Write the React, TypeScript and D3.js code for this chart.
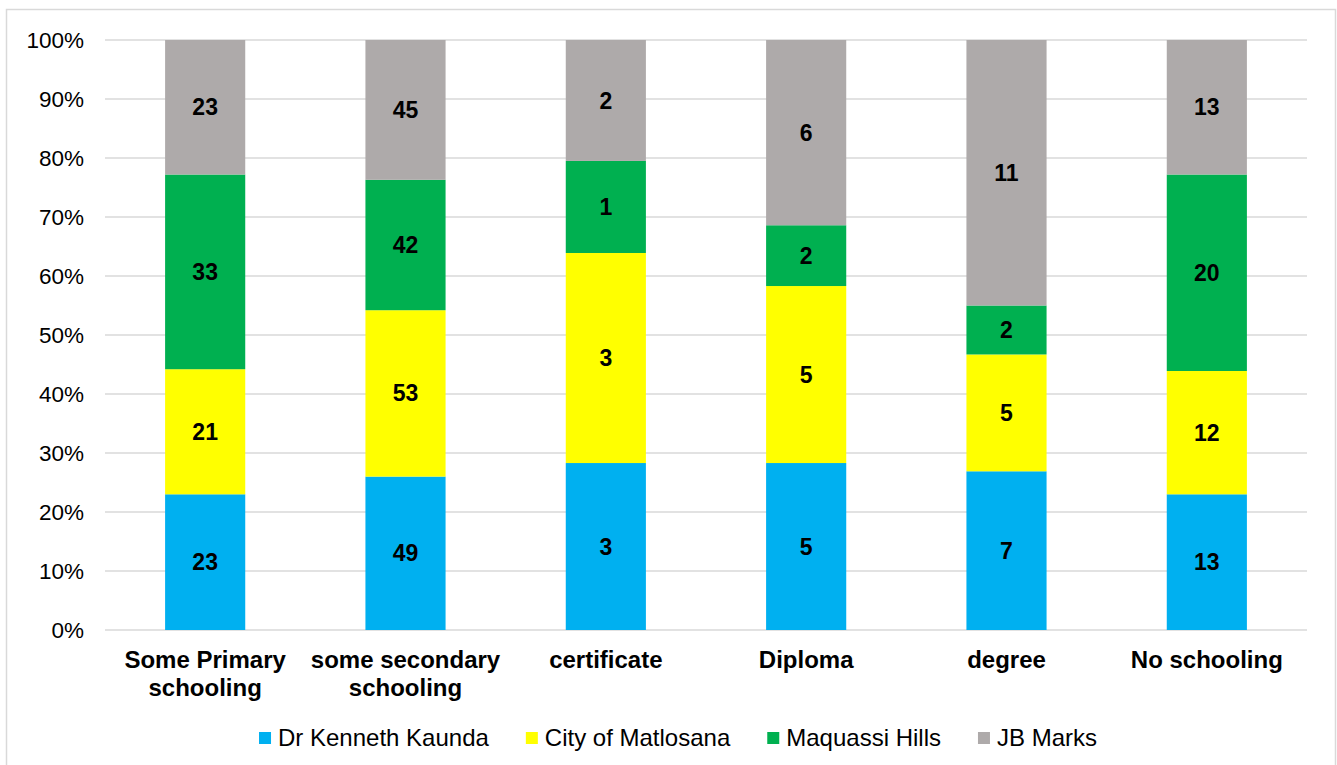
import React, { useMemo } from "react";
import * as d3 from "d3";

const categories = [
  "Some Primary schooling",
  "some secondary schooling",
  "certificate",
  "Diploma",
  "degree",
  "No schooling",
];
const seriesNames = ["Dr Kenneth Kaunda", "City of Matlosana", "Maquassi Hills", "JB Marks"];
const seriesColors = ["#00B0F0", "#FFFF00", "#00B050", "#AEAAAA"];

// data labels shown in the segments
const kaundaCounts = [23, 49, 3, 5, 7, 13];
const matlosanaCounts = [21, 53, 3, 5, 5, 12];
const maquassiCounts = [33, 42, 1, 2, 2, 20];
const jbMarksCounts = [23, 45, 2, 6, 11, 13];

// segment shares (%)
const kaundaShare = [23.0, 26.0, 28.3, 28.3, 26.9, 23.0];
const matlosanaShare = [21.2, 28.2, 35.6, 30.0, 19.8, 20.9];
const maquassiShare = [33.0, 22.1, 15.6, 10.3, 8.3, 33.3];
const jbMarksShare = [22.8, 23.7, 20.5, 31.4, 45.0, 22.8];

const yTicks = [0, 10, 20, 30, 40, 50, 60, 70, 80, 90, 100];

const W = 1337;
const H = 765;
const FONT = "'Liberation Sans', Arial, sans-serif";

let ctx: CanvasRenderingContext2D | null = null;
function measure(text: string, font: string): number {
  if (!ctx) ctx = document.createElement("canvas").getContext("2d");
  if (!ctx) return text.length * 12;
  ctx.font = font;
  return ctx.measureText(text).width;
}

function wrap(text: string, maxW: number, font: string): string[] {
  const words = text.split(" ");
  const lines: string[] = [];
  let cur = "";
  for (const w of words) {
    const t = cur ? cur + " " + w : w;
    if (measure(t, font) > maxW && cur) {
      lines.push(cur);
      cur = w;
    } else cur = t;
  }
  if (cur) lines.push(cur);
  return lines;
}

export default function App() {
  const margin = { left: 105, right: 30, top: 40, bottom: 135 };
  const plotRight = W - margin.right;
  const plotBottom = H - margin.bottom;

  const x = d3.scaleBand<string>().domain(categories).range([margin.left, plotRight]).paddingInner(0.6).paddingOuter(0.3);
  const y = d3.scaleLinear().domain([0, 1]).range([plotBottom, margin.top]);

  const counts = [kaundaCounts, matlosanaCounts, maquassiCounts, jbMarksCounts];
  const shares = [kaundaShare, matlosanaShare, maquassiShare, jbMarksShare];

  const rows = categories.map((c, i) => {
    const r: any = { cat: c };
    seriesNames.forEach((s, k) => (r[s] = shares[k][i]));
    return r;
  });
  const stacked = d3.stack<any>().keys(seriesNames).offset(d3.stackOffsetExpand)(rows);

  const catFont = `bold 24px ${FONT}`;
  const legFont = `24px ${FONT}`;

  const legend = useMemo(() => {
    const marker = 12;
    const gapM = 7;
    const gapItem = 37;
    const widths = seriesNames.map((s) => measure(s, legFont));
    const total = widths.reduce((a, b) => a + b, 0) + seriesNames.length * (marker + gapM) + gapItem * (seriesNames.length - 1);
    let cx = (margin.left + plotRight) / 2 - 28 - total / 2;
    return seriesNames.map((s, k) => {
      const item = { name: s, x: cx, color: seriesColors[k] };
      cx += marker + gapM + widths[k] + gapItem;
      return item;
    });
  }, []);

  return (
    <svg width={W} height={H} style={{ position: "absolute", left: 0, top: 0, background: "#fff" }} fontFamily={FONT}>
      <rect x={6.5} y={9.5} width={1329} height={H + 10} fill="#fff" stroke="#d9d9d9" strokeWidth={1.5} />
      {yTicks.map((t) => (
        <g key={t}>
          <line x1={margin.left} x2={plotRight} y1={y(t / 100)} y2={y(t / 100)} stroke="#d9d9d9" strokeWidth={1.5} />
          <text x={84} y={y(t / 100)} dy="0.35em" textAnchor="end" fontSize={22.5} fill="#000">
            {t}%
          </text>
        </g>
      ))}
      {stacked.map((layer, k) => (
        <g key={layer.key}>
          {layer.map((d, i) => (
            <rect
              key={i}
              x={x(categories[i])}
              width={x.bandwidth()}
              y={y(d[1])}
              height={y(d[0]) - y(d[1])}
              fill={seriesColors[k]}
            />
          ))}
        </g>
      ))}
      {stacked.map((layer, k) => (
        <g key={layer.key + "-lbl"}>
          {layer.map((d, i) => (
            <text
              key={i}
              x={(x(categories[i]) as number) + x.bandwidth() / 2}
              y={y((d[0] + d[1]) / 2)}
              dy="0.35em"
              textAnchor="middle"
              fontSize={23}
              fontWeight="bold"
              fill="#000"
            >
              {counts[k][i]}
            </text>
          ))}
        </g>
      ))}
      {categories.map((c) => {
        const lines = wrap(c, x.step() - 6, catFont);
        return (
          <text key={c} textAnchor="middle" fontSize={24} fontWeight="bold" fill="#000">
            {lines.map((l, j) => (
              <tspan key={j} x={(x(c) as number) + x.bandwidth() / 2} y={668 + j * 28}>
                {l}
              </tspan>
            ))}
          </text>
        );
      })}
      {legend.map((it) => (
        <g key={it.name}>
          <rect x={it.x} y={732} width={12} height={12} fill={it.color} />
          <text x={it.x + 19} y={738} dy="0.35em" fontSize={24} fill="#000">
            {it.name}
          </text>
        </g>
      ))}
    </svg>
  );
}
